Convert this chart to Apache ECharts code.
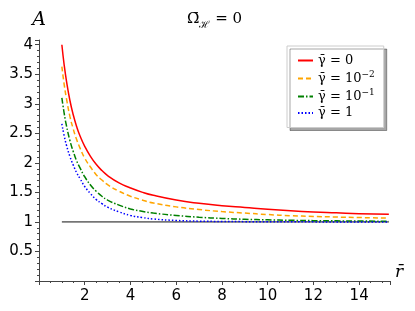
<!DOCTYPE html>
<html>
<head>
<meta charset="utf-8">
<script src="https://cdn.jsdelivr.net/npm/echarts@6/dist/echarts.min.js"></script>
<style>html,body{margin:0;padding:0;background:#fff}#c{width:415px;height:311px}</style>
</head>
<body>
<div id="c"></div>
<script>
const rValues = [1, 1.1, 1.2, 1.35, 1.5, 1.65, 1.8, 2, 2.25, 2.5, 2.75, 3, 3.5, 4, 4.5, 5, 6, 7, 8, 9, 10, 11, 12, 13, 14, 15.3];
const gamma0 = [4.00, 3.66, 3.39, 3.06, 2.81, 2.61, 2.45, 2.28, 2.11, 1.975, 1.87, 1.785, 1.66, 1.575, 1.505, 1.45, 1.37, 1.315, 1.275, 1.245, 1.215, 1.19, 1.17, 1.155, 1.14, 1.13];
const gamma1e2 = [3.63, 3.33, 3.09, 2.79, 2.57, 2.39, 2.245, 2.08, 1.93, 1.80, 1.71, 1.63, 1.52, 1.435, 1.372, 1.32, 1.255, 1.21, 1.175, 1.15, 1.125, 1.106, 1.094, 1.083, 1.074, 1.066];
const gamma1e1 = [3.10, 2.84, 2.63, 2.38, 2.19, 2.03, 1.91, 1.765, 1.625, 1.52, 1.435, 1.37, 1.285, 1.22, 1.18, 1.15, 1.11, 1.08, 1.06, 1.045, 1.035, 1.028, 1.022, 1.018, 1.015, 1.012];
const gamma1 = [2.66, 2.46, 2.30, 2.11, 1.96, 1.83, 1.73, 1.60, 1.48, 1.38, 1.31, 1.25, 1.17, 1.11, 1.075, 1.05, 1.025, 1.013, 1.008, 1.005, 1.003, 1.002, 1.001, 1.0, 1.0, 1.0];
const refLineX = [1, 15.3];
const refLineY = [1, 1];
const legendNames = ['g0', 'g2', 'g1', 'g10'];
const legendLabels = {
  g0: '{b|γ̄ = 0}',
  g2: '{b|γ̄ = 10}{s|−2}',
  g1: '{b|γ̄ = 10}{s|−1}',
  g10: '{b|γ̄ = 1}'
};
const xTicks = { min: 0, max: 15.35, interval: 2 };
const yTicks = { min: 0, max: 4.08, interval: 0.5 };

function pairs(xs, ys) { return xs.map((x, i) => [x, ys[i]]); }

const chart = echarts.init(document.getElementById('c'), null, { renderer: 'canvas' });
const axisColor = '#444';
chart.setOption({
  animation: false,
  backgroundColor: '#fff',
  title: {
    text: '{a|Ω̄}{sub|ℋ}{a| = 0}',
    left: 182, top: 4,
    textStyle: {
      fontWeight: 'normal',
      rich: {
        a: { fontFamily: 'DejaVu Serif', fontSize: 15, fontWeight: 'normal', color: '#000', lineHeight: 21 },
        sub: { fontFamily: 'DejaVu Serif', fontSize: 10, fontWeight: 'normal', color: '#000', verticalAlign: 'bottom' }
      }
    }
  },
  grid: { left: 39, right: 25, top: 40, bottom: 30, containLabel: false },
  legend: {
    data: legendNames,
    orient: 'vertical',
    left: 287, top: 46,
    width: 96,
    padding: [8, 9, 8, 10],
    itemGap: 3.5,
    itemWidth: 15, itemHeight: 14,
    backgroundColor: '#fff',
    borderColor: '#ccc', borderWidth: 1, borderRadius: 0,
    shadowColor: 'rgba(0,0,0,0.35)', shadowBlur: 0, shadowOffsetX: 3, shadowOffsetY: 3,
    itemStyle: { opacity: 0 },
    formatter: n => legendLabels[n],
    textStyle: {
      rich: {
        b: { fontFamily: 'DejaVu Serif', fontSize: 13, color: '#000', lineHeight: 16 },
        s: { fontFamily: 'DejaVu Serif', fontSize: 9, color: '#000', verticalAlign: 'top' }
      }
    }
  },
  xAxis: {
    type: 'value', min: xTicks.min, max: xTicks.max, interval: xTicks.interval,
    name: 'r̄', nameLocation: 'end', nameGap: 5,
    nameTextStyle: { fontFamily: 'DejaVu Serif', fontStyle: 'italic', fontSize: 17, color: '#000', verticalAlign: 'bottom' },
    axisLine: { onZero: false, lineStyle: { color: axisColor, width: 1 } },
    axisTick: { length: 4, lineStyle: { color: axisColor } },
    minorTick: { show: true, splitNumber: 4, length: 2, lineStyle: { color: axisColor } },
    splitLine: { show: false },
    axisLabel: { showMinLabel: false, showMaxLabel: false, fontFamily: 'DejaVu Sans', fontSize: 15, color: '#000', margin: 8 }
  },
  yAxis: {
    type: 'value', min: yTicks.min, max: yTicks.max, interval: yTicks.interval,
    name: 'A', nameLocation: 'end', nameGap: 10,
    nameTextStyle: { fontFamily: 'DejaVu Serif', fontStyle: 'italic', fontSize: 19, color: '#000', align: 'center' },
    axisLine: { onZero: false, lineStyle: { color: axisColor, width: 1 } },
    axisTick: { length: 4, lineStyle: { color: axisColor } },
    minorTick: { show: true, splitNumber: 5, length: 2, lineStyle: { color: axisColor } },
    splitLine: { show: false },
    axisLabel: { showMinLabel: false, showMaxLabel: false, fontFamily: 'DejaVu Sans', fontSize: 15, color: '#000', margin: 6 }
  },
  series: [
    { name: 'ref', type: 'line', data: pairs(refLineX, refLineY), symbol: 'none', silent: true,
      lineStyle: { color: '#111', width: 1 }, z: 1 },
    { name: 'g0', type: 'line', data: pairs(rValues, gamma0), smooth: true, symbol: 'none',
      color: '#ff0000', lineStyle: { color: '#ff0000', width: 1.5 } },
    { name: 'g2', type: 'line', data: pairs(rValues, gamma1e2), smooth: true, symbol: 'none',
      color: '#ffa500', lineStyle: { color: '#ffa500', width: 1.5, type: [5, 3] } },
    { name: 'g1', type: 'line', data: pairs(rValues, gamma1e1), smooth: true, symbol: 'none',
      color: '#008000', lineStyle: { color: '#008000', width: 1.5, type: [6, 2, 1.5, 2] } },
    { name: 'g10', type: 'line', data: pairs(rValues, gamma1), smooth: true, symbol: 'none',
      color: '#0000ff', lineStyle: { color: '#0000ff', width: 1.5, type: [1.5, 2] } }
  ]
});
</script>
</body>
</html>
